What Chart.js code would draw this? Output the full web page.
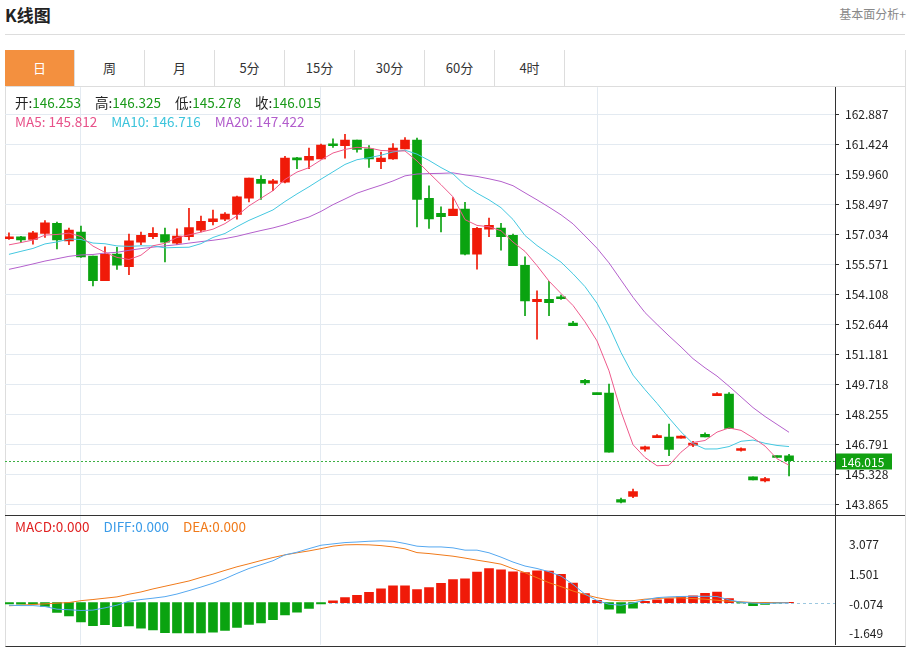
<!DOCTYPE html>
<html><head><meta charset="utf-8">
<script src="https://cdn.jsdelivr.net/npm/chart.js@4"></script>
<style>
body{margin:0;background:#fff;font-family:"Noto Sans CJK SC","Noto Sans",sans-serif;width:910px;height:647px;overflow:hidden;position:relative}
.title{position:absolute;left:5px;top:2px;font-size:17px;font-weight:bold;color:#222}
.more{position:absolute;right:4px;top:5px;font-size:12px;color:#888}
.hr{position:absolute;left:5px;right:5px;top:34px;border-top:1px solid #ddd}
.box{position:absolute;left:5px;top:50px;width:899px;height:595px;border:1px solid #ddd;border-bottom:1px solid #333}
.tabs{position:absolute;left:5px;top:50px;height:36px;display:flex;border-bottom:1px solid #ddd;width:900px;background:#fff;z-index:2}
.tabs div{width:69px;border-right:1px solid #ddd;text-align:center;line-height:36px;font-size:13px;color:#333}
.tabs div.on{background:#f3903f;color:#fff}
canvas{position:absolute}
.leg{position:absolute;font-size:13.5px;white-space:nowrap;z-index:3;line-height:18px}
.leg span{margin-right:14px}
.leg b{font-weight:normal;color:#1a9a1a}
</style></head><body>
<div class="title">K线图</div><div class="more">基本面分析+</div><div class="hr"></div>
<div class="box"></div>
<div class="tabs"><div class="on">日</div><div>周</div><div>月</div><div>5分</div><div>15分</div><div>30分</div><div>60分</div><div>4时</div></div>
<canvas id="k" style="left:5px;top:87px"></canvas>
<canvas id="m" style="left:5px;top:516px"></canvas>
<div style="position:absolute;left:835px;top:87px;width:1px;height:558px;background:#333;z-index:3"></div>
<div style="position:absolute;left:5px;top:515px;width:900px;height:1px;background:#333;z-index:3"></div>
<div class="leg" style="left:15px;top:93px;color:#222"><span>开:<b>146.253</b></span><span>高:<b>146.325</b></span><span>低:<b>145.278</b></span>收:<b>146.015</b></div>
<div class="leg" style="left:15px;top:112px"><span style="color:#e8528a">MA5: 145.812</span><span style="color:#3cc4dc">MA10: 146.716</span><span style="color:#b25dcc">MA20: 147.422</span></div>
<div class="leg" style="left:15px;top:517px"><span style="color:#e02020">MACD:0.000</span><span style="color:#3a9be8">DIFF:0.000</span><span style="color:#f07a1a">DEA:0.000</span></div>
<script>
const opens  = [156.82,156.92,156.79,157.08,157.57,156.72,157.15,155.98,154.78,156.07,155.46,156.66,156.92,157.02,156.60,156.92,157.24,157.65,157.77,158.01,158.80,159.71,159.52,159.58,160.75,160.65,160.71,161.38,161.35,161.62,161.20,160.58,160.71,161.20,161.62,158.79,158.06,157.94,158.27,156.07,157.29,157.34,156.99,155.53,153.76,153.87,153.98,152.72,149.93,149.31,149.31,144.12,144.27,146.57,147.14,147.17,147.11,146.77,147.30,149.18,149.26,146.51,145.23,145.03,146.25,146.253];
const highs  = [157.11,156.94,157.18,157.70,157.63,157.34,157.44,155.98,156.43,156.40,157.05,157.15,157.37,157.34,157.31,158.30,157.93,158.22,158.09,158.90,159.77,159.90,159.71,160.84,160.78,161.23,161.43,161.69,161.91,161.62,161.36,161.04,161.46,161.75,161.72,159.40,158.38,158.83,158.59,157.38,157.83,157.57,157.05,155.94,154.29,154.75,154.08,152.80,149.98,149.31,149.75,144.19,144.63,146.73,147.29,147.80,147.22,146.96,147.37,149.33,149.33,146.64,145.23,145.21,146.25,146.325];
const lows   = [156.79,156.63,156.56,156.89,156.33,156.53,155.91,154.52,154.78,155.33,155.07,156.53,156.82,155.69,156.53,156.76,157.15,157.50,157.70,157.77,158.61,158.73,159.16,159.54,160.23,160.23,160.71,161.27,160.75,161.04,160.29,160.23,160.68,161.20,157.40,157.33,157.15,157.94,156.03,155.34,156.92,156.26,155.51,153.07,151.93,153.07,153.87,152.59,149.72,149.23,146.43,143.96,144.21,146.48,147.14,146.26,147.11,146.70,147.17,149.18,147.58,146.48,145.08,144.98,146.17,145.278];
const closes = [156.92,156.76,157.11,157.60,156.76,157.24,155.94,154.78,156.07,155.54,156.72,156.99,157.08,156.66,156.95,157.36,157.67,157.79,158.02,158.86,159.77,159.52,159.64,160.75,160.66,160.84,161.38,161.35,161.62,161.17,160.71,160.75,161.23,161.62,158.74,157.79,157.89,158.27,156.07,157.33,157.47,156.92,155.51,153.79,153.87,153.71,153.90,152.59,149.80,149.23,146.43,143.99,144.51,146.69,147.22,146.56,147.17,146.87,147.17,149.26,147.58,146.57,145.08,145.14,146.17,146.015];
// closes before the visible window, used only to start the moving averages
const priorCloses = [154.2,154.4,154.8,154.5,154.9,154.6,154.3,154.7,154.8,154.8,155.3,155.7,155.4,155.8,155.8,156.2,156.5,156.4,156.6];
const macdBars = [-0.07,-0.09,-0.09,-0.21,-0.52,-0.70,-1.02,-1.22,-1.17,-1.28,-1.24,-1.35,-1.45,-1.59,-1.61,-1.61,-1.61,-1.57,-1.47,-1.31,-1.15,-1.08,-0.91,-0.66,-0.51,-0.31,-0.07,0.09,0.26,0.38,0.54,0.72,0.89,0.89,0.68,0.79,1.02,1.21,1.26,1.61,1.79,1.73,1.63,1.58,1.68,1.66,1.49,1.03,0.47,0.12,-0.35,-0.56,-0.30,0.07,0.14,0.21,0.32,0.35,0.49,0.56,0.21,-0.02,-0.17,-0.10,-0.02,0.01];
const diffLine = [-0.14,-0.16,-0.16,-0.21,-0.35,-0.38,-0.42,-0.40,-0.28,-0.14,0.07,0.16,0.23,0.31,0.45,0.63,0.82,1.02,1.26,1.54,1.80,2.00,2.21,2.52,2.66,2.85,3.03,3.10,3.17,3.20,3.24,3.26,3.24,3.12,2.98,2.94,2.94,2.89,2.77,2.77,2.63,2.40,2.14,1.93,1.80,1.63,1.40,0.96,0.44,0.11,-0.09,-0.14,-0.03,0.14,0.26,0.30,0.32,0.33,0.33,0.32,0.14,0.02,-0.03,-0.05,-0.02,-0.02];
const deaLine = [-0.17,-0.14,-0.10,-0.07,-0.03,0.00,0.10,0.16,0.23,0.30,0.44,0.56,0.72,0.86,1.00,1.14,1.33,1.50,1.70,1.89,2.05,2.22,2.38,2.52,2.63,2.73,2.85,2.98,3.05,3.06,3.05,3.01,2.94,2.84,2.64,2.59,2.52,2.45,2.35,2.24,2.14,2.03,1.79,1.58,1.31,1.05,0.84,0.61,0.42,0.26,0.14,0.09,0.10,0.18,0.21,0.25,0.25,0.21,0.18,0.12,0.07,0.04,0.00,0.00,0.00,0.00];
const priceTicks = [143.865,145.328,146.791,148.255,149.718,151.181,152.644,154.108,155.571,157.034,158.497,159.960,161.424,162.887];
const macdTicks = [-1.649,-0.074,1.501,3.077];
const dayLines = [5.9,25.9,49];

const UP = '#f01a08', DOWN = '#0aa310';
const all = priorCloses.concat(closes), off = priorCloses.length;
function ma(n) {
  return closes.map((c, i) => {
    let s = 0;
    for (let k = 0; k < n; k++) s += all[off + i - k];
    return { x: i, y: s / n };
  });
}
const col = closes.map((c, i) => c >= opens[i] ? UP : DOWN);
const xScale = () => ({ type: 'linear', display: false, min: -0.33, max: 68.83, offset: false, bounds: 'data' });
const tickFont = { family: 'Noto Sans CJK SC, Noto Sans', size: 12 };
function yScale(min, max, ticks, grid) {
  return {
    position: 'right', min, max, afterFit: s => { s.width = 70; },
    afterBuildTicks: s => { s.ticks = ticks.map(v => ({ value: v })); },
    ticks: { color: '#222', font: tickFont, padding: 6, callback: v => v.toFixed(3) },
    grid: grid ? { color: '#e3eaf1', tickLength: 4, tickColor: '#333' } : { display: false },
    border: { display: false }
  };
}
const dayGrid = {
  id: 'dayGrid',
  beforeDatasetsDraw(chart) {
    const { ctx, chartArea: a, scales: { x } } = chart;
    ctx.save(); ctx.strokeStyle = '#e3eaf1'; ctx.lineWidth = 1;
    dayLines.forEach(v => {
      const px = Math.round(x.getPixelForValue(v)) + 0.5;
      ctx.beginPath(); ctx.moveTo(px, a.top); ctx.lineTo(px, a.bottom); ctx.stroke();
    });
    ctx.restore();
  }
};
const lastLine = {
  id: 'last',
  afterDatasetsDraw(chart) {
    const { ctx, chartArea: a, scales: { y } } = chart;
    const v = closes[closes.length - 1], py = Math.round(y.getPixelForValue(v)) + 0.5;
    ctx.save();
    ctx.strokeStyle = '#3cb043'; ctx.setLineDash([2, 2]); ctx.lineWidth = 1;
    ctx.beginPath(); ctx.moveTo(a.left, py); ctx.lineTo(a.right, py); ctx.stroke();
    ctx.setLineDash([]);
    ctx.fillStyle = '#11a011'; ctx.fillRect(a.right + 1, py - 8, 56, 16);
    ctx.fillStyle = '#fff'; ctx.font = '12px Noto Sans CJK SC, Noto Sans'; ctx.textBaseline = 'middle';
    ctx.fillText(v.toFixed(3), a.right + 6, py + 1);
    ctx.restore();
  }
};
const zeroLine = {
  id: 'zero',
  beforeDatasetsDraw(chart) {
    const { ctx, chartArea: a, scales: { y } } = chart;
    const py = Math.round(y.getPixelForValue(0)) + 0.5;
    ctx.save(); ctx.strokeStyle = '#9cc8e0'; ctx.setLineDash([3, 3]);
    ctx.beginPath(); ctx.moveTo(a.left, py); ctx.lineTo(a.right, py); ctx.stroke(); ctx.restore();
  }
};
const baseOpts = { responsive: false, maintainAspectRatio: false, animation: false, layout: { padding: 0 }, plugins: { legend: { display: false }, tooltip: { enabled: false } } };
function sizeCanvas(c, top, h) {
  c.width = 900; c.height = h; c.style.width = '900px'; c.style.height = h + 'px'; c.style.top = top + 'px';
}
// draw once to measure the axis padding, then redraw so the plot area spans the wanted rows
function place(id, top, height, config) {
  const c = document.getElementById(id);
  sizeCanvas(c, top, height);
  let ch = new Chart(c, config());
  const padT = ch.chartArea.top, padB = ch.height - ch.chartArea.bottom;
  ch.destroy();
  sizeCanvas(c, top - padT, height + padT + padB);
  return new Chart(c, config());
}

place('k', 87, 428, () => ({
  data: {
    datasets: [
      { type: 'bar', data: closes.map((c, i) => ({ x: i, y: [lows[i], highs[i]] })), backgroundColor: col, barThickness: 1, grouped: false, order: 3 },
      { type: 'bar', data: closes.map((c, i) => ({ x: i, y: [opens[i], c] })), backgroundColor: col, barThickness: 9, minBarLength: 2, grouped: false, order: 2 },
      { type: 'line', data: ma(5), borderColor: '#ee5a8c', borderWidth: 1, pointRadius: 0, order: 1 },
      { type: 'line', data: ma(10), borderColor: '#44c8e0', borderWidth: 1, pointRadius: 0, order: 1 },
      { type: 'line', data: ma(20), borderColor: '#b460cc', borderWidth: 1, pointRadius: 0, order: 1 }
    ]
  },
  options: { ...baseOpts, scales: { x: xScale(), y: yScale(143.38, 164.2, priceTicks, true) } },
  plugins: [dayGrid, lastLine]
}));

place('m', 516, 129, () => ({
  data: {
    datasets: [
      { type: 'bar', data: macdBars.map((v, i) => ({ x: i, y: [0, v] })), backgroundColor: macdBars.map(v => v >= 0 ? UP : DOWN), barThickness: 9, order: 2 },
      { type: 'line', data: diffLine.map((v, i) => ({ x: i, y: v })), borderColor: '#55a8f0', borderWidth: 1, pointRadius: 0, order: 1 },
      { type: 'line', data: deaLine.map((v, i) => ({ x: i, y: v })), borderColor: '#f07a1a', borderWidth: 1, pointRadius: 0, order: 1 }
    ]
  },
  options: { ...baseOpts, scales: { x: xScale(), y: yScale(-2.233, 4.564, macdTicks, false) } },
  plugins: [dayGrid, zeroLine]
}));
</script>
</body></html>
